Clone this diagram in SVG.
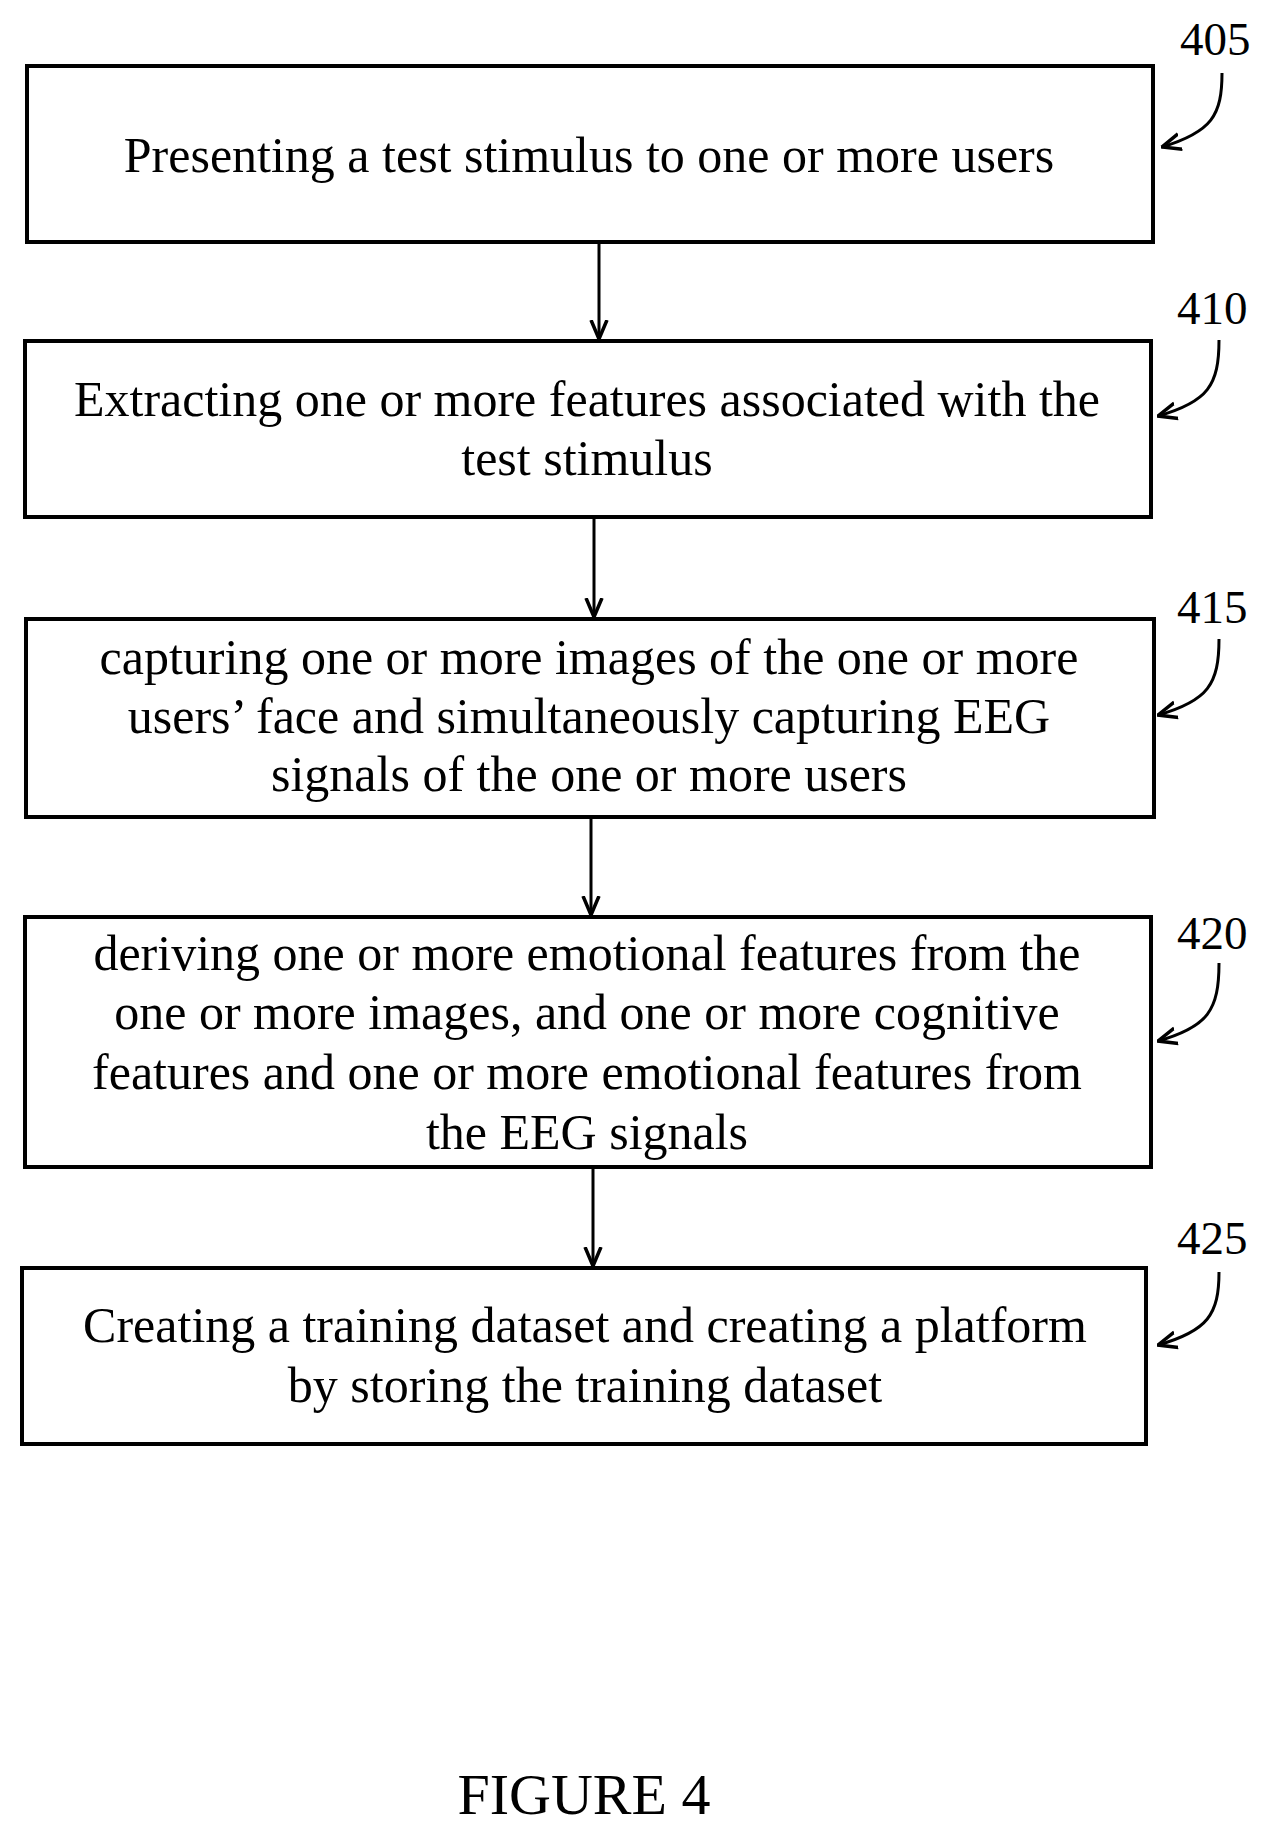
<svg xmlns="http://www.w3.org/2000/svg" width="1272" height="1835" viewBox="0 0 1272 1835">
<style>
.box{fill:#fff;stroke:#000;stroke-width:4}
.t{font-family:"Liberation Serif","Times New Roman",serif;font-size:50px;fill:#000;text-anchor:middle}
.lbl{font-family:"Liberation Serif","Times New Roman",serif;font-size:47px;fill:#000}
.c{fill:none;stroke:#000;stroke-width:3}
</style>
<defs>
<marker id="a" viewBox="0 0 20 20" refX="19" refY="10" markerWidth="20" markerHeight="20" orient="auto" markerUnits="userSpaceOnUse">
<path d="M0,2 L19,10 L0,18" fill="none" stroke="#000" stroke-width="3.5"/>
</marker>
</defs>
<rect width="1272" height="1835" fill="#fff"/>
<g id="connectors">
<line class="c" x1="599" y1="242" x2="599" y2="339" marker-end="url(#a)"/>
<line class="c" x1="594" y1="517" x2="594" y2="617" marker-end="url(#a)"/>
<line class="c" x1="591" y1="817" x2="591" y2="915" marker-end="url(#a)"/>
<line class="c" x1="593" y1="1167" x2="593" y2="1266" marker-end="url(#a)"/>
<path class="c" d="M1222,73 C1222,115 1212,132 1162,147" marker-end="url(#a)"/>
<path class="c" d="M1219,340 C1219,385 1208,402 1158,416" marker-end="url(#a)"/>
<path class="c" d="M1219,639 C1219,684 1208,701 1158,715" marker-end="url(#a)"/>
<path class="c" d="M1219,963 C1219,1010 1208,1027 1158,1041" marker-end="url(#a)"/>
<path class="c" d="M1219,1272 C1219,1314 1208,1331 1158,1345" marker-end="url(#a)"/>
</g>
<g id="n405">
<rect class="box" x="27" y="66" width="1126" height="176"/>
<text class="t" x="589" y="172">Presenting a test stimulus to one or more users</text>
<text class="lbl" x="1180" y="55">405</text>
</g>
<g id="n410">
<rect class="box" x="25" y="341" width="1126" height="176"/>
<text class="t" x="587" y="416">Extracting one or more features associated with the</text>
<text class="t" x="587" y="475">test stimulus</text>
<text class="lbl" x="1177" y="324">410</text>
</g>
<g id="n415">
<rect class="box" x="26" y="619" width="1128" height="198"/>
<text class="t" x="589" y="674">capturing one or more images of the one or more</text>
<text class="t" x="589" y="733">users’ face and simultaneously capturing EEG</text>
<text class="t" x="589" y="791">signals of the one or more users</text>
<text class="lbl" x="1177" y="623">415</text>
</g>
<g id="n420">
<rect class="box" x="25" y="917" width="1126" height="250"/>
<text class="t" x="587" y="970">deriving one or more emotional features from the</text>
<text class="t" x="587" y="1029">one or more images, and one or more cognitive</text>
<text class="t" x="587" y="1089">features and one or more emotional features from</text>
<text class="t" x="587" y="1149">the EEG signals</text>
<text class="lbl" x="1177" y="949">420</text>
</g>
<g id="n425">
<rect class="box" x="22" y="1268" width="1124" height="176"/>
<text class="t" x="585" y="1342">Creating a training dataset and creating a platform</text>
<text class="t" x="585" y="1402">by storing the training dataset</text>
<text class="lbl" x="1177" y="1254">425</text>
</g>
<text class="t" x="584" y="1814" style="font-size:58px">FIGURE 4</text>
</svg>
